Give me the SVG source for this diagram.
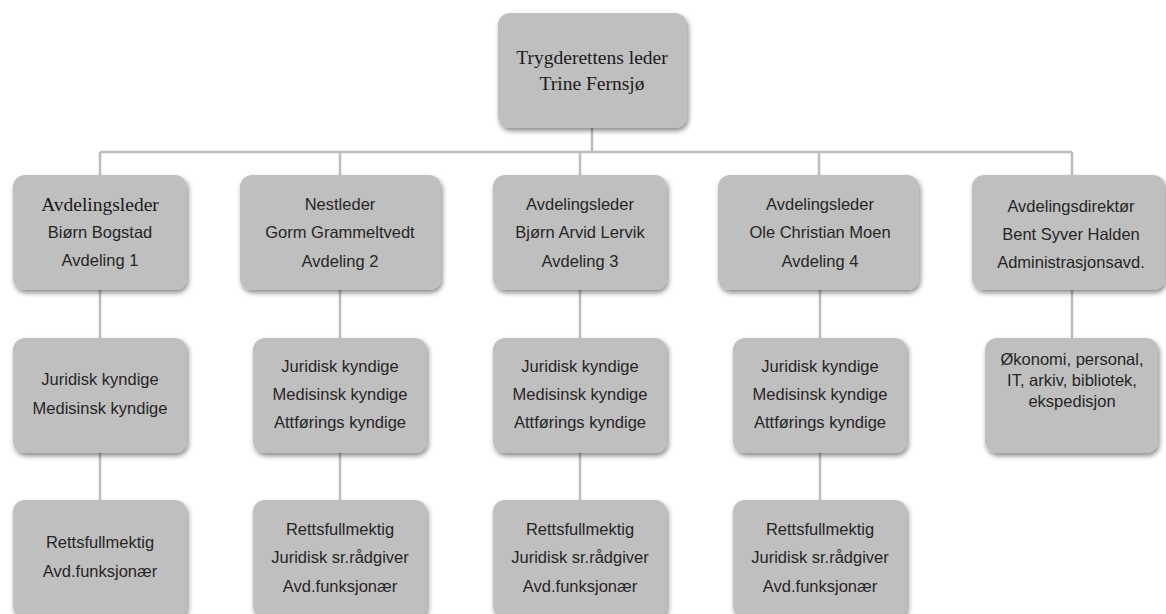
<svg xmlns="http://www.w3.org/2000/svg" width="1166" height="614" viewBox="0 0 1166 614">
<defs>
<filter id="sh" x="-10%" y="-10%" width="125%" height="135%">
<feDropShadow dx="1.5" dy="3" stdDeviation="2.5" flood-color="#000" flood-opacity="0.45"/>
</filter>
</defs>
<style>
.box{fill:#bfbfbf;filter:url(#sh)}
.t{font-family:"Liberation Sans",Arial,sans-serif;font-size:16.5px;fill:#262626;text-anchor:middle}
.s{font-family:"Liberation Serif","Times New Roman",serif;font-size:19.5px;fill:#1a1a1a;text-anchor:middle}
.c{stroke:#bdbdbd;stroke-width:2.5;fill:none}
</style>
<rect width="1166" height="614" fill="#fff"/>
<g id="connectors" class="c">
<path d="M592 128V152M100 152H1072M100 152V175M340 152V175M580 152V175M819 152V175M1072 152V175"/>
<path d="M100 290V338M340 290V338M580 290V338M820 290V338M1072 290V338"/>
<path d="M100 453V500M340 453V500M580 453V500M820 453V500"/>
</g>
<g id="top">
<rect class="box" x="498" y="13" width="189" height="115" rx="12"/>
<text class="s" x="592" y="64">Trygderettens leder</text>
<text class="s" x="592" y="90">Trine Fernsjø</text>
</g>
<g id="l2c1">
<rect class="box" x="13" y="175" width="174" height="115" rx="12"/>
<text class="s" x="100" y="211" font-size="19">Avdelingsleder</text>
<text class="t" x="100" y="238">Biørn Bogstad</text>
<text class="t" x="100" y="266">Avdeling 1</text>
</g>
<g id="l2c2">
<rect class="box" x="240" y="175" width="201" height="115" rx="12"/>
<text class="t" x="340" y="210">Nestleder</text>
<text class="t" x="340" y="238">Gorm Grammeltvedt</text>
<text class="t" x="340" y="267">Avdeling 2</text>
</g>
<g id="l2c3">
<rect class="box" x="493" y="175" width="174" height="115" rx="12"/>
<text class="t" x="580" y="210">Avdelingsleder</text>
<text class="t" x="580" y="238">Bjørn Arvid Lervik</text>
<text class="t" x="580" y="267">Avdeling 3</text>
</g>
<g id="l2c4">
<rect class="box" x="718" y="175" width="201" height="115" rx="12"/>
<text class="t" x="820" y="210">Avdelingsleder</text>
<text class="t" x="820" y="238">Ole Christian Moen</text>
<text class="t" x="820" y="267">Avdeling 4</text>
</g>
<g id="l2c5">
<rect class="box" x="972" y="175" width="193" height="115" rx="12"/>
<text class="t" x="1071" y="212">Avdelingsdirektør</text>
<text class="t" x="1071" y="240">Bent Syver Halden</text>
<text class="t" x="1071" y="268">Administrasjonsavd.</text>
</g>
<g id="l3c1">
<rect class="box" x="13" y="338" width="174" height="115" rx="12"/>
<text class="t" x="100" y="385">Juridisk kyndige</text>
<text class="t" x="100" y="414">Medisinsk kyndige</text>
</g>
<g id="l3c2">
<rect class="box" x="253" y="338" width="174" height="115" rx="12"/>
<text class="t" x="340" y="372">Juridisk kyndige</text>
<text class="t" x="340" y="400">Medisinsk kyndige</text>
<text class="t" x="340" y="428">Attførings kyndige</text>
</g>
<g id="l3c3">
<rect class="box" x="493" y="338" width="174" height="115" rx="12"/>
<text class="t" x="580" y="372">Juridisk kyndige</text>
<text class="t" x="580" y="400">Medisinsk kyndige</text>
<text class="t" x="580" y="428">Attførings kyndige</text>
</g>
<g id="l3c4">
<rect class="box" x="733" y="338" width="174" height="115" rx="12"/>
<text class="t" x="820" y="372">Juridisk kyndige</text>
<text class="t" x="820" y="400">Medisinsk kyndige</text>
<text class="t" x="820" y="428">Attførings kyndige</text>
</g>
<g id="l3c5">
<rect class="box" x="985" y="338" width="173" height="115" rx="12"/>
<text class="t" x="1072" y="365">Økonomi, personal,</text>
<text class="t" x="1072" y="386">IT, arkiv, bibliotek,</text>
<text class="t" x="1072" y="407">ekspedisjon</text>
</g>
<g id="l4c1">
<rect class="box" x="13" y="500" width="174" height="118" rx="12"/>
<text class="t" x="100" y="548">Rettsfullmektig</text>
<text class="t" x="100" y="577">Avd.funksjonær</text>
</g>
<g id="l4c2">
<rect class="box" x="253" y="500" width="174" height="118" rx="12"/>
<text class="t" x="340" y="535">Rettsfullmektig</text>
<text class="t" x="340" y="563">Juridisk sr.rådgiver</text>
<text class="t" x="340" y="592">Avd.funksjonær</text>
</g>
<g id="l4c3">
<rect class="box" x="493" y="500" width="174" height="118" rx="12"/>
<text class="t" x="580" y="535">Rettsfullmektig</text>
<text class="t" x="580" y="563">Juridisk sr.rådgiver</text>
<text class="t" x="580" y="592">Avd.funksjonær</text>
</g>
<g id="l4c4">
<rect class="box" x="733" y="500" width="174" height="118" rx="12"/>
<text class="t" x="820" y="535">Rettsfullmektig</text>
<text class="t" x="820" y="563">Juridisk sr.rådgiver</text>
<text class="t" x="820" y="592">Avd.funksjonær</text>
</g>
</svg>
